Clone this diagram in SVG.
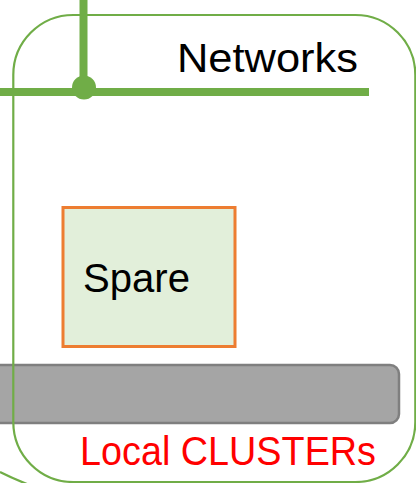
<svg xmlns="http://www.w3.org/2000/svg" width="416" height="483" viewBox="0 0 416 483">
<style>
.lbl{font-family:"Liberation Sans",Arial,sans-serif;font-size:41px}
.net{stroke:#70AD47;stroke-width:8;fill:none}
.cl{stroke:#70AD47;stroke-width:2.2;fill:none}
</style>
<rect width="416" height="483" fill="#FFFFFF"/>
<g id="local-bar">
<rect x="-10" y="365" width="409" height="58" rx="9" fill="#A5A5A5" stroke="#7F7F7F" stroke-width="2.5"/>
</g>
<g id="cluster">
<rect class="cl" x="13.3" y="15" width="402" height="467" rx="60"/>
<path class="cl" d="M0,472 Q14,479 27,484"/>
<text class="lbl" x="80" y="465" fill="#FF0000" textLength="296" lengthAdjust="spacingAndGlyphs">Local CLUSTERs</text>
</g>
<g id="connectors">
<line class="net" x1="83.5" y1="0" x2="83.5" y2="88"/>
<line class="net" x1="0" y1="92" x2="369" y2="92"/>
<circle cx="84" cy="87.5" r="12" fill="#70AD47"/>
</g>
<g id="networks">
<text class="lbl" x="177" y="72" fill="#000000" textLength="181" lengthAdjust="spacingAndGlyphs">Networks</text>
</g>
<g id="spare">
<rect x="63" y="207.5" width="172" height="139" fill="#E2EFDA" stroke="#ED7D31" stroke-width="3"/>
<text class="lbl" x="83" y="292" fill="#000000" textLength="107" lengthAdjust="spacingAndGlyphs">Spare</text>
</g>
</svg>
